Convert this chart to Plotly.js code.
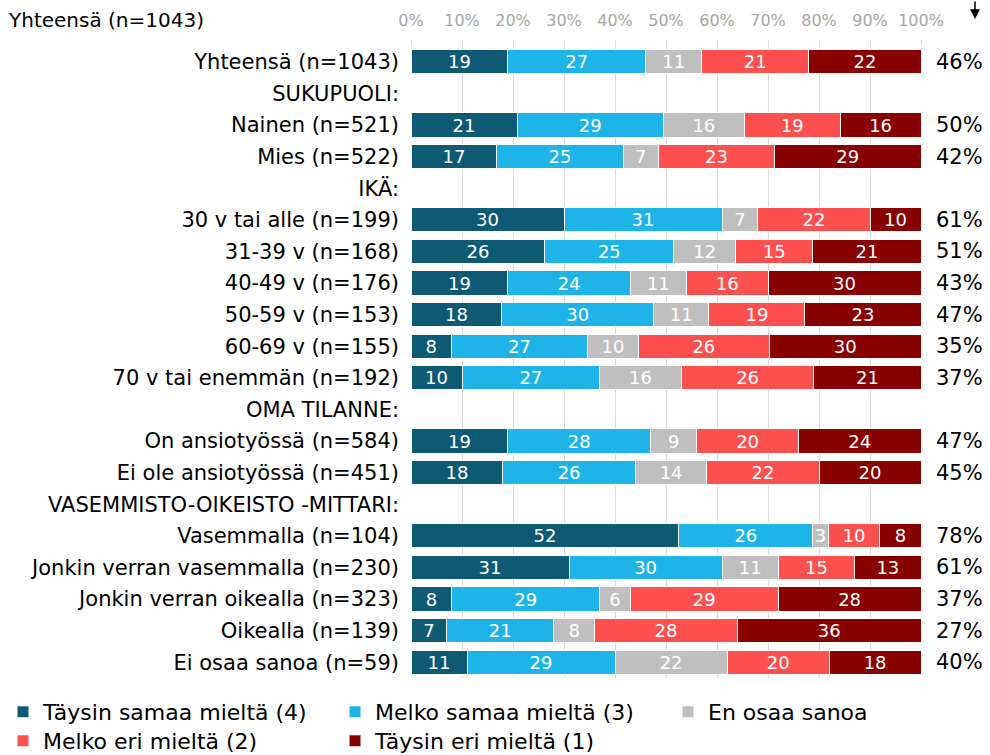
<!DOCTYPE html>
<html>
<head>
<meta charset="utf-8">
<script src="https://cdn.plot.ly/plotly-3.0.1.min.js"></script>
<style>html,body{margin:0;padding:0;background:#fff;}#chart{width:990px;height:755px;}</style>
</head>
<body>
<div id="chart"></div>
<script>
const categories = [
  "Yhteensä (n=1043)", "SUKUPUOLI:", "Nainen (n=521)", "Mies (n=522)", "IKÄ:",
  "30 v tai alle (n=199)", "31-39 v (n=168)", "40-49 v (n=176)", "50-59 v (n=153)",
  "60-69 v (n=155)", "70 v tai enemmän (n=192)", "OMA TILANNE:", "On ansiotyössä (n=584)",
  "Ei ole ansiotyössä (n=451)", "VASEMMISTO-OIKEISTO -MITTARI:", "Vasemmalla (n=104)",
  "Jonkin verran vasemmalla (n=230)", "Jonkin verran oikealla (n=323)", "Oikealla (n=139)",
  "Ei osaa sanoa (n=59)"
];
const seriesNames = ["Täysin samaa mieltä (4)", "Melko samaa mieltä (3)", "En osaa sanoa", "Melko eri mieltä (2)", "Täysin eri mieltä (1)"];
const taysinSamaa = [19, null, 21, 17, null, 30, 26, 19, 18, 8, 10, null, 19, 18, null, 52, 31, 8, 7, 11];
const melkoSamaa  = [27, null, 29, 25, null, 31, 25, 24, 30, 27, 27, null, 28, 26, null, 26, 30, 29, 21, 29];
const enOsaa      = [11, null, 16, 7, null, 7, 12, 11, 11, 10, 16, null, 9, 14, null, 3, 11, 6, 8, 22];
const melkoEri    = [21, null, 19, 23, null, 22, 15, 16, 19, 26, 26, null, 20, 22, null, 10, 15, 29, 28, 20];
const taysinEri   = [22, null, 16, 29, null, 10, 21, 30, 23, 30, 21, null, 24, 20, null, 8, 13, 28, 36, 18];
const samaaTotal  = ["46%", null, "50%", "42%", null, "61%", "51%", "43%", "47%", "35%", "37%", null, "47%", "45%", null, "78%", "61%", "37%", "27%", "40%"];
const colors = ["#0E5A75", "#1FB4E8", "#BFBFBF", "#FF5050", "#880000"];
const allSeries = [taysinSamaa, melkoSamaa, enOsaa, melkoEri, taysinEri];

const FONT = "DejaVu Sans, Verdana, sans-serif";
const legendIds = ["legend", "legend2", "legend3", "legend4", "legend5"];

const traces = allSeries.map((vals, i) => ({
  type: "bar",
  orientation: "h",
  name: seriesNames[i],
  legend: legendIds[i],
  y: categories,
  x: vals,
  text: vals.map(v => v == null ? "" : String(v)),
  textposition: "inside",
  insidetextanchor: "middle",
  textangle: 0,
  constraintext: "none",
  textfont: {color: "#ffffff", size: 18, family: FONT},
  marker: {color: colors[i], line: {color: "#ffffff", width: 1}},
  hoverinfo: "none"
}));

const annotations = [];
categories.forEach((c, i) => {
  if (samaaTotal[i] != null) {
    annotations.push({
      xref: "paper", yref: "y", x: 1.025, y: c, xanchor: "left", yanchor: "middle",
      text: samaaTotal[i], showarrow: false,
      font: {size: 21, color: "#000", family: FONT}
    });
  }
});
annotations.push({
  xref: "paper", yref: "paper", x: (6 - 411) / 510, y: (678 - 20) / 632, xanchor: "left", yanchor: "middle",
  text: categories[0], showarrow: false, font: {size: 20, color: "#000", family: FONT}
});
annotations.push({
  xref: "paper", yref: "paper", x: (975 - 411) / 510, y: (678 - 19) / 632,
  ax: 0, ay: -19, text: "", showarrow: true, arrowhead: 2, arrowsize: 1.3, arrowwidth: 1.5, arrowcolor: "#000"
});

function legendAt(px, py) {
  return {
    orientation: "h", xref: "container", yref: "container",
    x: px / 990, y: 1 - py / 755, xanchor: "left", yanchor: "middle",
    font: {size: 22, color: "#000", family: FONT},
    itemwidth: 30, bgcolor: "rgba(0,0,0,0)"
  };
}

const layout = {
  width: 990, height: 755,
  margin: {l: 411, r: 69, t: 46, b: 77},
  barmode: "stack",
  barnorm: "percent",
  bargap: 0.24,
  paper_bgcolor: "#fff", plot_bgcolor: "#fff",
  font: {family: FONT, color: "#000"},
  showlegend: true,
  xaxis: {
    side: "top", range: [0, 100], dtick: 10, ticksuffix: "%",
    showgrid: true, gridcolor: "#D9D9D9", gridwidth: 1, zeroline: false,
    ticks: "outside", ticklen: 5, tickcolor: "#D9D9D9",
    ticklabelstandoff: 8,
    tickfont: {size: 16, color: "#A6A6A6", family: FONT},
    fixedrange: true
  },
  yaxis: {
    type: "category", autorange: "reversed",
    tickfont: {size: 21, color: "#000", family: FONT},
    ticks: "", ticklabelstandoff: 11, showgrid: false, zeroline: false,
    fixedrange: true
  },
  legend: legendAt(3, 712),
  legend2: legendAt(335, 712),
  legend3: legendAt(668, 712),
  legend4: legendAt(3, 741),
  legend5: legendAt(335, 741),
  annotations: annotations
};

Plotly.newPlot("chart", traces, layout, {displayModeBar: false, staticPlot: true});
</script>
</body>
</html>
